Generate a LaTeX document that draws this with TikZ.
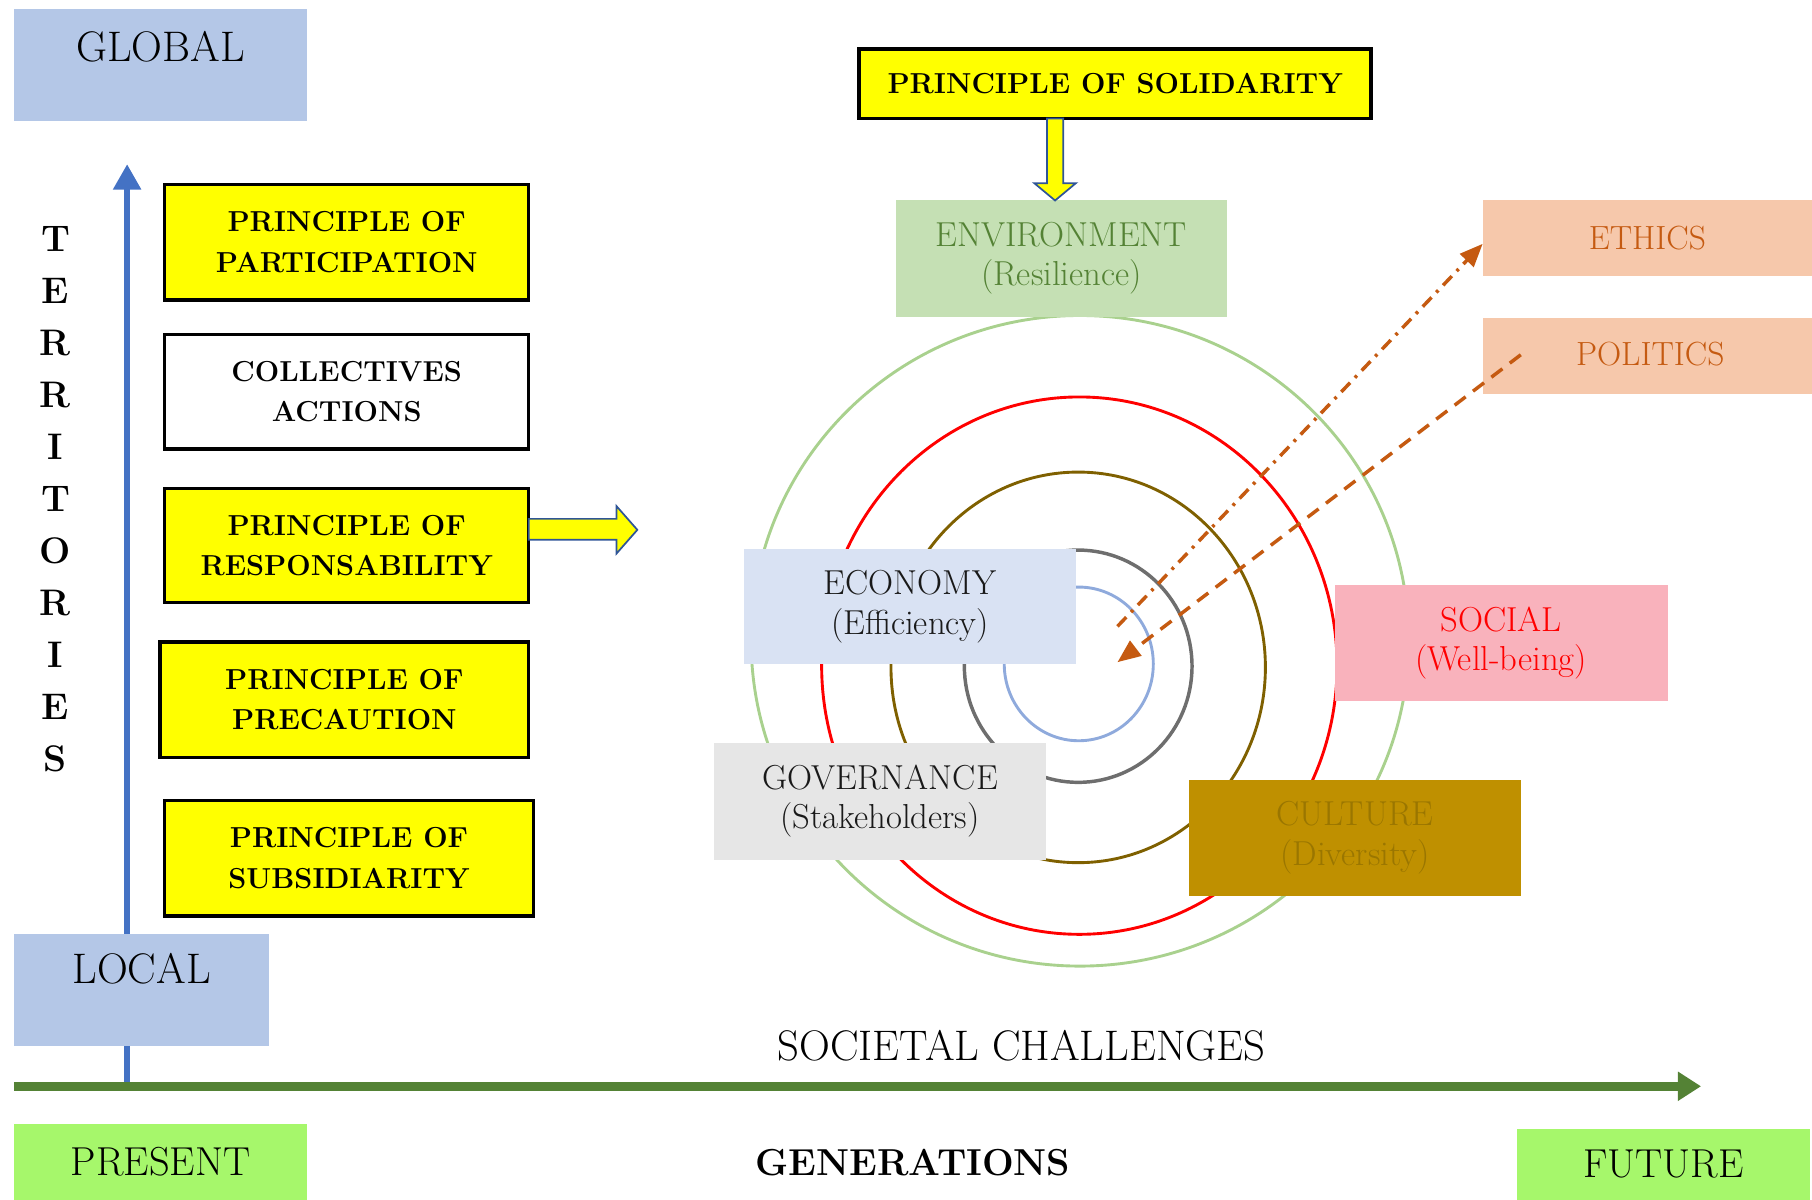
\documentclass[tikz,border=0pt]{standalone}
\usepackage{fontspec}
\usetikzlibrary{arrows.meta,calc}
\definecolor{locblue}{HTML}{B4C7E7}
\definecolor{axblue}{HTML}{4472C4}
\definecolor{axgreen}{HTML}{548235}
\definecolor{genfill}{HTML}{A6F76B}
\definecolor{envfill}{HTML}{C5E0B4}
\definecolor{envtext}{HTML}{548235}
\definecolor{ecofill}{HTML}{D9E2F3}
\definecolor{govfill}{HTML}{E6E6E6}
\definecolor{socfill}{HTML}{F9B2BC}
\definecolor{culfill}{HTML}{BF9000}
\definecolor{cultext}{HTML}{9A7600}
\definecolor{ethfill}{HTML}{F6C8AB}
\definecolor{ethtext}{HTML}{C55A11}
\definecolor{cgreen}{HTML}{A9D18E}
\definecolor{cbrown}{HTML}{7F6000}
\definecolor{cgray}{HTML}{6E6E6E}
\definecolor{cblue}{HTML}{8FAADC}
\definecolor{arrblue}{HTML}{2F5597}
\definecolor{pureyellow}{HTML}{FFFF00}
\begin{document}
\begin{tikzpicture}[x=1pt,y=-1pt,
  ybox/.style={draw=black, line width=3pt, fill=pureyellow, inner sep=0pt, outer sep=0pt,
    align=center, font=\fontsize{25}{35}\selectfont\bfseries},
  lbox/.style={inner sep=0pt, outer sep=0pt, align=center, font=\fontsize{30}{34}\selectfont},
  bigbox/.style={inner sep=0pt, outer sep=0pt, align=center, font=\fontsize{37}{40}\selectfont},
  genbox/.style={inner sep=0pt, outer sep=0pt, align=center, font=\fontsize{35}{40}\selectfont, fill=genfill},
  blockarrow/.style={draw=arrblue, line width=1.5pt, fill=pureyellow, line join=miter},
  ring/.style={line width=2.5pt},
  linkarrow/.style={draw=ethtext, line width=3pt, -{Triangle[length=20pt,width=16pt]}},
]
\useasboundingbox (0,0) rectangle (1568,1038);

% vertical territories axis
\coordinate (vbot) at (110,940);
\coordinate (vtop) at (110,142);
\draw[axblue, line width=5.5pt, -{Triangle[length=22pt,width=23pt]}] (vbot) -- (vtop);

% global / local boxes
\node[bigbox, fill=locblue, minimum width=254pt, minimum height=97pt,
  text height=45pt, text depth=52pt] (global) at (139,56.5) {GLOBAL};
\node[bigbox, fill=locblue, minimum width=221pt, minimum height=97pt,
  text height=43pt, text depth=54pt] (local) at (122.5,856.5) {LOCAL};

% territories label
\node[inner sep=0pt, align=center, font=\fontsize{32}{45}\selectfont\bfseries]
  (terr) at (48,432) {T\\E\\R\\R\\I\\T\\O\\R\\I\\E\\S};

% principle boxes
\node[ybox, minimum width=315pt, minimum height=100pt] (part) at (300,209.5) {PRINCIPLE OF\\PARTICIPATION};
\node[ybox, fill=white, minimum width=315pt, minimum height=99pt] (coll) at (300,339) {COLLECTIVES\\ACTIONS};
\node[ybox, minimum width=315pt, minimum height=99pt] (resp) at (300,472) {PRINCIPLE OF\\RESPONSABILITY};
\node[ybox, minimum width=319pt, minimum height=100pt] (prec) at (298,605.5) {PRINCIPLE OF\\PRECAUTION};
\node[ybox, minimum width=319pt, minimum height=100pt] (subs) at (302,742.5) {PRINCIPLE OF\\SUBSIDIARITY};

% block arrow from responsability
\draw[blockarrow] (resp.east) ++(0,-23) -- ++(76,0) -- ++(0,-11) -- ++(18,20.5)
  -- ++(-18,20.5) -- ++(0,-12) -- ++(-76,0) -- cycle;

% horizontal generations axis
\coordinate (hl) at (12,940);
\coordinate (hr) at (1472,940);
\draw[axgreen, line width=8pt, -{Triangle[length=20pt,width=24pt]}] (hl) -- (hr);

\node[bigbox] (soc) at (884,905) {SOCIETAL CHALLENGES};
\node[genbox, minimum width=254pt, minimum height=65pt] (present) at (139,1005.5) {PRESENT};
\node[genbox, minimum width=253pt, minimum height=61pt] (future) at (1439.5,1007.5) {FUTURE};
\node[inner sep=0pt, font=\fontsize{32.5}{36}\selectfont\bfseries] (gen) at (790,1006) {GENERATIONS};

% concentric rings
\draw[ring, cgreen] (934.5,554.5) ellipse (284.5 and 281.5);
\draw[ring, red] (934,576) ellipse (223 and 232.5);
\draw[ring, cbrown] (933,577.5) ellipse (162 and 169);
\draw[ring, cgray, line width=3pt] (933,576.5) ellipse (98.5 and 100.5);
\draw[ring, cblue] (933.5,574.5) ellipse (64.5 and 66.5);

% dimension boxes
\node[lbox, fill=envfill, text=envtext, minimum width=287pt, minimum height=101pt] (env) at (918.5,223.5) {ENVIRONMENT\\(Resilience)};
\node[lbox, fill=ecofill, text=black!90, minimum width=287pt, minimum height=100pt] (eco) at (787.5,525) {\raisebox{4pt}{ECONOMY}\\\raisebox{4pt}{(Efficiency)}};
\node[lbox, fill=govfill, text=black!90, minimum width=287pt, minimum height=101pt] (gov) at (761.5,693.5) {\raisebox{4pt}{GOVERNANCE}\\\raisebox{4pt}{(Stakeholders)}};
\node[lbox, fill=socfill, text=red, minimum width=288pt, minimum height=101pt] (social) at (1299,556.5) {SOCIAL\\(Well-being)};
\node[lbox, fill=culfill, text=cultext, minimum width=287pt, minimum height=100pt] (cult) at (1172.5,725) {\raisebox{4pt}{CULTURE}\\\raisebox{4pt}{(Diversity)}};
\node[lbox, font=\fontsize{29}{34}\selectfont, fill=ethfill, text=ethtext, minimum width=285pt, minimum height=66pt] (ethics) at (1425.5,206) {ETHICS};
\node[lbox, font=\fontsize{29}{34}\selectfont, fill=ethfill, text=ethtext, minimum width=285pt, minimum height=66pt] (politics) at (1425.5,308) {\hspace*{5pt}\raisebox{4pt}{POLITICS}};

% solidarity
\node[ybox, minimum width=443pt, minimum height=60pt] (sol) at (965,72.5) {PRINCIPLE OF SOLIDARITY};
\coordinate (solarr) at ($(sol.south)+(-52,0)$);
\draw[blockarrow] (solarr) ++(-7,0) -- ++(0,56) -- ++(-11,0) -- ++(18,15)
  -- ++(18,-15) -- ++(-11,0) -- ++(0,-56) -- cycle;

% ethics / politics links
\coordinate (centreA) at (967,542);
\coordinate (centreB) at (967,573);
\draw[linkarrow, dash pattern=on 11pt off 6pt on 2.5pt off 6pt] (centreA) -- ([yshift=-5pt]ethics.west);
\draw[linkarrow, dash pattern=on 12pt off 8pt] ([xshift=33pt,yshift=1pt]politics.west) -- (centreB);
\end{tikzpicture}
\end{document}
